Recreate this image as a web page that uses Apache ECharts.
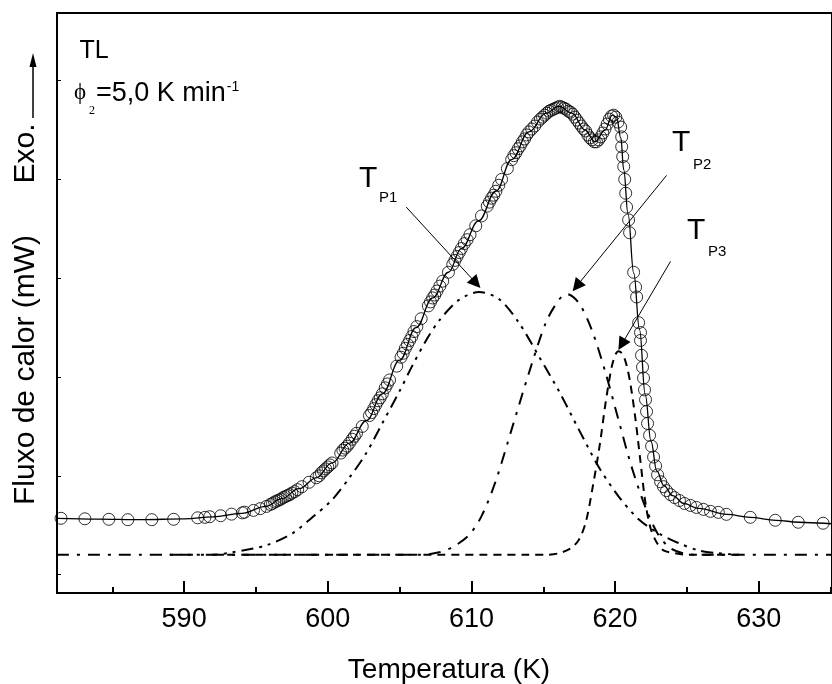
<!DOCTYPE html>
<html><head><meta charset="utf-8">
<script src="https://cdn.jsdelivr.net/npm/echarts@6/dist/echarts.min.js"></script>
<style>html,body{margin:0;padding:0;background:#fff}#c{width:832px;height:684px}</style>
</head><body><div id="c"></div>
<script>
// ---- axis ticks ----
const xTickLabels = [590, 600, 610, 620, 630];
const xMinorTicks = [585, 595, 605, 615, 625, 635];
const yTicks = [0, 1, 2, 3, 4, 5];

// ---- measured DSC data (circles) ----
const measT = [581.43,583.09,584.76,586.08,587.75,589.27,590.94,591.45,591.78,592.54,593.30,594.05,594.21,594.83,595.30,595.73,
596.0,596.15,596.3,596.45,596.6,596.75,596.9,597.05,597.2,597.35,597.5,597.7,597.9,598.2,
598.7,
599.2,599.4,599.55,599.7,599.85,600.0,600.15,600.3,
600.9,601.05,601.2,601.35,601.5,601.7,601.85,602.0,
602.4,
602.9,603.05,603.2,603.35,603.5,603.65,603.8,604.0,604.15,604.3,
604.8,
605.1,605.25,605.4,605.55,605.7,605.85,606.0,606.2,
606.5,
607.0,607.15,607.3,607.45,607.6,607.8,608.0,
608.4,
608.7,608.85,609.0,609.15,609.3,609.5,609.7,609.9,
610.3,610.7,
611.1,611.25,611.4,611.55,611.7,611.9,612.1,
612.5,
612.8,612.95,613.1,613.25,613.4,613.55,613.7,613.85,614.0,614.2,614.4,614.6,
614.8,614.95,615.1,615.25,615.4,615.55,615.7,615.85,616.0,616.15,616.3,616.45,616.6,616.75,616.9,617.05,617.2,617.35,617.5,617.65,617.8,617.95,618.1,618.25,618.4,618.55,618.7,618.85,619.0,619.15,619.3,619.45,619.6,619.75,619.9,620.05,620.2,
620.39,620.46,620.46,620.53,620.60,620.67,620.74,620.80,620.94,621.01,
621.29,621.43,621.50,621.64,621.77,621.77,621.84,621.91,621.98,622.05,
622.12,622.19,622.26,622.40,622.54,622.68,622.82,622.96,623.17,623.37,
623.58,623.86,624.14,624.48,624.83,625.25,625.66,626.15,626.64,627.19,
627.75,629.41,631.15,632.75,634.48];
const measFlux = [0.570,0.565,0.560,0.556,0.556,0.560,0.575,0.580,0.586,0.596,0.612,0.625,0.632,0.650,0.668,0.690,
0.71,0.72,0.735,0.745,0.755,0.765,0.78,0.79,0.80,0.81,0.825,0.84,0.86,0.89,
0.935,
0.98,1.00,1.03,1.05,1.07,1.09,1.11,1.13,
1.23,1.26,1.28,1.30,1.33,1.37,1.40,1.43,
1.50,
1.61,1.64,1.68,1.72,1.76,1.79,1.83,1.89,1.93,1.97,
2.11,
2.20,2.24,2.29,2.33,2.37,2.41,2.46,2.51,
2.59,
2.72,2.76,2.80,2.83,2.87,2.92,2.97,
3.06,
3.14,3.18,3.22,3.26,3.30,3.35,3.39,3.44,
3.53,3.63,
3.73,3.77,3.81,3.84,3.88,3.94,4.00,
4.11,
4.20,4.24,4.27,4.31,4.34,4.38,4.41,4.45,4.48,4.51,4.54,4.58,
4.61,4.63,4.65,4.67,4.69,4.70,4.71,4.72,4.73,4.74,4.73,4.72,4.71,4.69,4.68,4.66,4.63,4.60,4.57,4.54,4.51,4.49,4.45,4.42,4.40,4.38,4.38,4.40,4.43,4.47,4.51,4.56,4.61,4.64,4.65,4.63,4.58,
4.53,4.43,4.33,4.23,4.13,4.00,3.86,3.72,3.59,3.46,
3.06,2.91,2.81,2.55,2.45,2.37,2.22,2.10,1.99,1.87,
1.77,1.65,1.53,1.41,1.30,1.19,1.10,1.01,0.94,0.89,
0.85,0.81,0.78,0.75,0.72,0.70,0.68,0.66,0.64,0.63,
0.61,0.58,0.55,0.53,0.52];

// ---- fitted curve (solid) ----
const fitT = [581.15,584,587,590,592,594,595.7,596.8,598.0,599.2,600.3,601.5,602.7,603.8,605.0,606.15,607.3,608.4,609.3,610.5,611.7,612.8,614.0,615.2,616.1,617.0,617.9,618.6,619.3,619.8,620.1,620.4,620.6,620.9,621.3,621.7,622.1,622.5,622.9,623.4,624.0,624.8,625.8,627.8,629.4,631.2,632.8,634.5,635.1];
const fitFlux = [0.57,0.562,0.556,0.565,0.585,0.62,0.69,0.77,0.87,0.98,1.13,1.33,1.56,1.83,2.17,2.50,2.80,3.06,3.30,3.58,3.88,4.20,4.48,4.67,4.74,4.67,4.50,4.38,4.50,4.65,4.63,4.42,4.10,3.65,3.05,2.48,1.82,1.35,1.05,0.90,0.80,0.72,0.67,0.61,0.58,0.55,0.53,0.52,0.515];

// ---- deconvoluted peaks ----
const p1T = [589.0,591.8,593.37,595.73,597.54,598.93,600.32,601.5,602.68,603.79,604.97,605.87,606.84,607.75,609.13,610.53,611.91,613.3,614.69,616.08,617.47,618.86,620.25,621.64,623.02,624.41,625.8,627.19,628.6];
const p1Flux = [0.20,0.20,0.226,0.297,0.418,0.58,0.76,0.98,1.23,1.53,1.85,2.11,2.37,2.57,2.78,2.86,2.79,2.55,2.21,1.86,1.47,1.09,0.79,0.56,0.42,0.32,0.246,0.216,0.20];
const p2T = [581.15,604.5,606.36,607.75,608.79,609.83,610.73,611.71,612.82,614.0,615.18,616.08,616.63,617.47,618.37,619.34,620.25,621.15,622.12,623.02,623.86,624.76,625.8,635.1];
const p2Flux = [0.20,0.20,0.20,0.226,0.287,0.40,0.60,0.955,1.48,2.04,2.55,2.78,2.84,2.75,2.48,2.04,1.56,1.09,0.68,0.40,0.267,0.216,0.20,0.20];
const p3T = [593.0,614.0,615.04,616.08,616.91,617.47,617.96,618.44,618.93,619.34,619.76,620.04,620.25,620.53,620.80,621.08,621.43,621.77,622.12,622.47,622.88,623.37,624.2,625.1,628.6];
const p3Flux = [0.20,0.20,0.20,0.216,0.267,0.35,0.53,0.885,1.31,1.74,2.10,2.23,2.26,2.23,2.12,1.92,1.56,1.14,0.72,0.47,0.33,0.246,0.216,0.20,0.20];

// ---- annotation arrows (data coords: [fromT, fromFlux, toT, toFlux]) ----
const arrowP1 = [605.46, 3.72, 610.32, 2.95];
const arrowP2 = [623.58, 4.04, 617.33, 2.92];
const arrowP3 = [623.86, 3.17, 620.46, 2.33];

const zip = (a, b) => a.map((v, i) => [v, b[i]]);
const SANS = 'Liberation Sans, Arial, Helvetica, sans-serif';
const SERIF = 'Liberation Serif, DejaVu Serif, Times New Roman, serif';

const chart = echarts.init(document.getElementById('c'), null, {renderer: 'canvas'});

function arrowItem(a) {
  return [{coord: [a[0], a[1]], symbol: 'none'}, {coord: [a[2], a[3]], symbol: 'triangle'}];
}
const compLine = (pattern) => ({color: '#000', width: 2, type: pattern});

const ctx = document.createElement('canvas').getContext('2d');
function tw(text, font) { ctx.font = font; return ctx.measureText(text).width; }
const mainFont = '27px ' + SANS;
const phiMainX = 96;
const phiMainW = tw('=5,0 K min', mainFont);

const X_MIN = 581.15, X_MAX = 635.1;
const baseX = {type: 'value', min: X_MIN, max: X_MAX, position: 'bottom', offset: 0, splitLine: {show: false}};

const option = {
  animation: false,
  backgroundColor: '#fff',
  grid: {left: 57, top: 13, width: 777, height: 580, show: true, borderColor: '#000', borderWidth: 2, backgroundColor: 'transparent'},
  xAxis: [
    Object.assign({}, baseX, {
      axisLine: {show: true, onZero: false, lineStyle: {color: '#000', width: 2}},
      axisTick: {show: false},
      axisLabel: {show: true, customValues: xTickLabels, color: '#000', fontSize: 27, fontFamily: SANS, margin: 13}
    }),
    Object.assign({}, baseX, {
      axisLine: {show: false, onZero: false},
      axisTick: {show: true, inside: true, length: 12, customValues: xTickLabels, lineStyle: {color: '#000', width: 2}},
      axisLabel: {show: false}
    }),
    Object.assign({}, baseX, {
      axisLine: {show: false, onZero: false},
      axisTick: {show: true, inside: true, length: 6, customValues: xMinorTicks, lineStyle: {color: '#000', width: 2}},
      axisLabel: {show: false}
    })
  ],
  yAxis: {
    type: 'value', min: -0.186, max: 5.684,
    axisLine: {show: true, onZero: false, lineStyle: {color: '#000', width: 2}},
    axisTick: {show: true, inside: true, length: 4, customValues: yTicks, lineStyle: {color: '#000', width: 1}},
    axisLabel: {show: false},
    splitLine: {show: false}
  },
  series: [
    {name: 'P1', type: 'line', data: zip(p1T, p1Flux), showSymbol: false, smooth: 0.3,
      lineStyle: compLine([12, 6, 3, 6, 3, 6]), z: 2},
    {name: 'P2', type: 'line', data: zip(p2T, p2Flux), showSymbol: false, smooth: 0.3,
      lineStyle: compLine([12, 8, 3, 8]), z: 2},
    {name: 'P3', type: 'line', data: zip(p3T, p3Flux), showSymbol: false, smooth: 0.3,
      lineStyle: compLine([8, 6]), z: 2},
    {name: 'fit', type: 'line', data: zip(fitT, fitFlux), showSymbol: false, smooth: 0.4, smoothMonotone: 'x',
      lineStyle: {color: '#000', width: 1.3}, z: 3,
      markLine: {
        silent: true, animation: false, symbolSize: 13,
        label: {show: false},
        lineStyle: {color: '#000', width: 1, type: 'solid'},
        emphasis: {disabled: true},
        data: [arrowItem(arrowP1), arrowItem(arrowP2), arrowItem(arrowP3)]
      }},
    {name: 'data', type: 'scatter', data: zip(measT, measFlux), symbol: 'circle', symbolSize: 12,
      itemStyle: {color: 'rgba(0,0,0,0)', borderColor: '#000', borderWidth: 1}, z: 4, silent: true}
  ],
  graphic: [
    {type: 'text', x: 79.5, y: 38.7, style: {text: 'TL', font: '25px ' + SANS, fill: '#000', verticalAlign: 'top'}},
    {type: 'text', x: 74, y: 81, style: {text: 'ϕ', font: '23px ' + SERIF, fill: '#000', verticalAlign: 'top'}},
    {type: 'text', x: 89, y: 105, style: {text: '2', font: '12px ' + SERIF, fill: '#000', verticalAlign: 'top'}},
    {type: 'text', x: phiMainX, y: 80, style: {text: '=5,0 K min', font: mainFont, fill: '#000', verticalAlign: 'top'}},
    {type: 'text', x: phiMainX + phiMainW + 1, y: 80, style: {text: '-1', font: '14px ' + SANS, fill: '#000', verticalAlign: 'top'}},
    {type: 'text', x: 26, y: 370, rotation: Math.PI / 2, style: {text: 'Fluxo de calor (mW)', font: '30px ' + SANS, fill: '#000', align: 'center', verticalAlign: 'middle'}},
    {type: 'text', x: 26, y: 153.5, rotation: Math.PI / 2, style: {text: 'Exo.', font: '30px ' + SANS, fill: '#000', align: 'center', verticalAlign: 'middle'}},
    {type: 'line', shape: {x1: 33, y1: 118, x2: 33, y2: 66}, style: {stroke: '#000', lineWidth: 1.5}},
    {type: 'polygon', shape: {points: [[33, 53], [29.5, 67], [36.5, 67]]}, style: {fill: '#000'}},
    {type: 'text', x: 449, y: 656, style: {text: 'Temperatura (K)', font: '28px ' + SANS, fill: '#000', align: 'center', verticalAlign: 'top'}},
    {type: 'text', x: 359, y: 164, style: {text: 'T', font: '30px ' + SANS, fill: '#000', verticalAlign: 'top'}},
    {type: 'text', x: 379, y: 190, style: {text: 'P1', font: '15px ' + SANS, fill: '#000', verticalAlign: 'top'}},
    {type: 'text', x: 672, y: 128, style: {text: 'T', font: '30px ' + SANS, fill: '#000', verticalAlign: 'top'}},
    {type: 'text', x: 693, y: 157, style: {text: 'P2', font: '15px ' + SANS, fill: '#000', verticalAlign: 'top'}},
    {type: 'text', x: 687, y: 216, style: {text: 'T', font: '30px ' + SANS, fill: '#000', verticalAlign: 'top'}},
    {type: 'text', x: 708, y: 244, style: {text: 'P3', font: '15px ' + SANS, fill: '#000', verticalAlign: 'top'}}
  ]
};
chart.setOption(option);
</script>
</body></html>
